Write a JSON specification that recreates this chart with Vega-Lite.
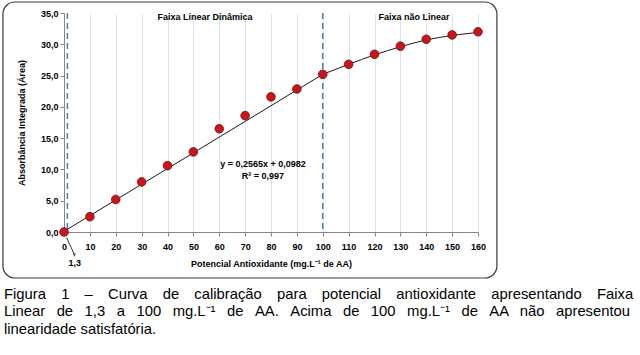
{
  "$schema": "https://vega.github.io/schema/vega-lite/v6.json",
  "autosize": {"type": "none"},
  "padding": {"left": 64, "top": 13, "right": 162, "bottom": 123},
  "width": 414,
  "height": 219,
  "background": "white",
  "data": {"values": [{}]},
  "config": {
    "view": {"stroke": null},
    "font": "Liberation Sans",
    "axis": {"labelFont": "Liberation Sans", "labelFontWeight": "bold", "labelFontSize": 9, "labelColor": "#000", "labelOverlap": false, "labelFlush": false, "titleFont": "Liberation Sans", "titleFontWeight": "bold", "titleFontSize": 9, "titleColor": "#000", "domainColor": "#868686", "tickColor": "#868686"}
  },
  "title": {
    "text": [
      "Figura \u2002\u20051 \u2002\u2005– \u2002\u2005Curva \u2002\u2005de \u2002\u2005calibração \u2002\u2005para \u2002\u2005potencial \u2002\u2005antioxidante \u2002\u2005apresentando \u2002\u2005Faixa",
      "Linear \u2002de \u20021,3 \u2002a \u2002100 \u2002mg.L⁻¹ \u2002de \u2002AA. \u2002Acima \u2002de \u2002100 \u2002mg.L⁻¹ \u2002de \u2002AA \u2002não \u2002apresentou",
      "linearidade satisfatória."
    ],
    "orient": "bottom",
    "anchor": "start",
    "frame": "group",
    "dx": -60,
    "offset": 8,
    "font": "Liberation Sans",
    "fontSize": 14.8,
    "fontWeight": "normal",
    "color": "#000",
    "lineHeight": 17.5
  },
  "datasets": {
    "pts": [
      {"x": 0, "y": 0.0}, {"x": 10, "y": 2.45}, {"x": 20, "y": 5.2}, {"x": 30, "y": 8.0},
      {"x": 40, "y": 10.6}, {"x": 50, "y": 12.8}, {"x": 60, "y": 16.5}, {"x": 70, "y": 18.6},
      {"x": 80, "y": 21.6}, {"x": 90, "y": 22.85}, {"x": 100, "y": 25.2}, {"x": 110, "y": 26.8},
      {"x": 120, "y": 28.4}, {"x": 130, "y": 29.7}, {"x": 140, "y": 30.8}, {"x": 150, "y": 31.5},
      {"x": 160, "y": 32.0}
    ],
    "curve": [
      {"part": "linear", "x": 0, "y": 0.1}, {"part": "linear", "x": 100, "y": 25.2},
      {"part": "curve", "x": 100, "y": 25.2}, {"part": "curve", "x": 110, "y": 26.8}, {"part": "curve", "x": 120, "y": 28.3},
      {"part": "curve", "x": 130, "y": 29.6}, {"part": "curve", "x": 140, "y": 30.7}, {"part": "curve", "x": 150, "y": 31.4}, {"part": "curve", "x": 160, "y": 31.9}
    ],
    "limits": [{"x": 1.3}, {"x": 100}]
  },
  "layer": [
    {
      "mark": {"type": "rect", "fill": "transparent", "stroke": "#3a3a3a", "strokeWidth": 1.2, "cornerRadius": 12, "clip": false},
      "encoding": {
        "x": {"datum": -23.6, "type": "quantitative", "scale": {"domain": [0, 160], "nice": false},
          "axis": {"values": [0,10,20,30,40,50,60,70,80,90,100,110,120,130,140,150,160], "tickCount": 17, "labelOverlap": false, "grid": true, "gridColor": "#dde3ec", "tickSize": 4, "labelPadding": 6, "title": "Potencial Antioxidante (mg.L⁻¹ de AA)", "titlePadding": 8}},
        "x2": {"datum": 167.3},
        "y": {"datum": 36.76, "type": "quantitative", "scale": {"domain": [0, 35], "nice": false},
          "axis": {"values": [0,5,10,15,20,25,30,35], "tickCount": 8, "labelOverlap": false, "grid": false, "tickSize": 4, "labelExpr": "replace(format(datum.value, '.1f'), '.', ',')", "title": "Absorbância Integrada (Área)", "titlePadding": 14}},
        "y2": {"datum": -7.35}
      }
    },
    {
      "data": {"name": "limits"},
      "mark": {"type": "rule", "stroke": "#4a7ebb", "strokeWidth": 1.5, "strokeDash": [6, 4]},
      "encoding": {"x": {"field": "x", "type": "quantitative"}}
    },
    {
      "data": {"name": "curve"},
      "mark": {"type": "line", "color": "#1a1a1a", "strokeWidth": 1, "interpolate": "monotone"},
      "encoding": {"x": {"field": "x", "type": "quantitative"}, "y": {"field": "y", "type": "quantitative"}, "detail": {"field": "part"}}
    },
    {
      "data": {"name": "pts"},
      "mark": {"type": "circle", "size": 75, "fill": "#c8161d", "stroke": "#7a0b0b", "strokeWidth": 0.8, "opacity": 1},
      "encoding": {"x": {"field": "x", "type": "quantitative"}, "y": {"field": "y", "type": "quantitative"}}
    },
    {
      "mark": {"type": "text", "text": "Faixa Linear Dinâmica", "fontWeight": "bold", "fontSize": 9, "align": "center", "baseline": "middle"},
      "encoding": {"x": {"datum": 54.5, "type": "quantitative"}, "y": {"datum": 34.4, "type": "quantitative"}}
    },
    {
      "mark": {"type": "text", "text": "Faixa não Linear", "fontWeight": "bold", "fontSize": 9, "align": "center", "baseline": "middle"},
      "encoding": {"x": {"datum": 135.3, "type": "quantitative"}, "y": {"datum": 34.4, "type": "quantitative"}}
    },
    {
      "mark": {"type": "text", "text": "y = 0,2565x + 0,0982", "fontWeight": "bold", "fontSize": 9, "align": "center", "baseline": "middle"},
      "encoding": {"x": {"datum": 76.9, "type": "quantitative"}, "y": {"datum": 10.87, "type": "quantitative"}}
    },
    {
      "mark": {"type": "text", "text": "R² = 0,997", "fontWeight": "bold", "fontSize": 9, "align": "center", "baseline": "middle"},
      "encoding": {"x": {"datum": 76.9, "type": "quantitative"}, "y": {"datum": 8.95, "type": "quantitative"}}
    },
    {
      "mark": {"type": "text", "text": "1,3", "fontWeight": "bold", "fontSize": 9, "align": "center", "baseline": "middle", "clip": false},
      "encoding": {"x": {"datum": 4.2, "type": "quantitative"}, "y": {"datum": -5.0, "type": "quantitative"}}
    },
    {
      "mark": {"type": "rule", "stroke": "#333", "strokeWidth": 1, "clip": false},
      "encoding": {"x": {"datum": 1.0, "type": "quantitative"}, "y": {"datum": -0.9, "type": "quantitative"}, "x2": {"datum": 4.0}, "y2": {"datum": -3.6}}
    },
    {
      "mark": {"type": "point", "shape": "triangle-down", "filled": true, "color": "#333", "size": 14, "clip": false},
      "encoding": {"x": {"datum": 4.0, "type": "quantitative"}, "y": {"datum": -3.7, "type": "quantitative"}}
    }
  ]
}
